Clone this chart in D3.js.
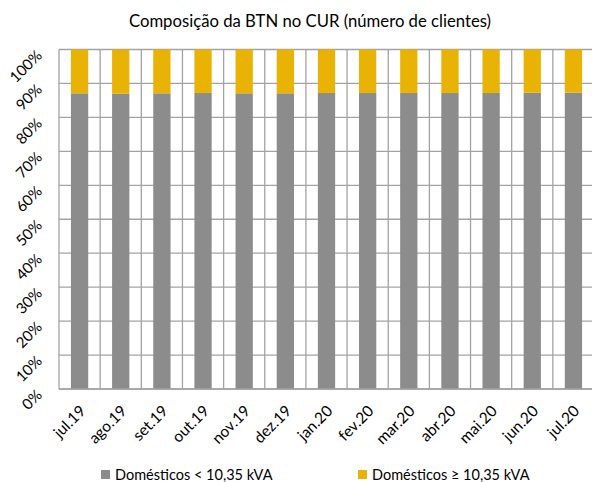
<!DOCTYPE html>
<html>
<head>
<meta charset="utf-8">
<script src="https://cdn.jsdelivr.net/npm/d3@7"></script>
<style>
  body { margin: 0; background: #fff; }
  text { font-family: Lato, "Open Sans", sans-serif; fill: #000; }
</style>
</head>
<body>
<svg id="chart" width="592" height="482"></svg>
<script>
const months = ["jul.19", "ago.19", "set.19", "out.19", "nov.19", "dez.19", "jan.20",
  "fev.20", "mar.20", "abr.20", "mai.20", "jun.20", "jul.20"];
// share of clients, %
const smallPower = [87.1, 87.0, 87.1, 87.2, 87.1, 87.1, 87.2, 87.2, 87.2, 87.2, 87.2, 87.3, 87.3];
const largePower = smallPower.map((v) => 100 - v);
const yTicks = [0, 10, 20, 30, 40, 50, 60, 70, 80, 90, 100];
const seriesNames = ["Domésticos < 10,35 kVA", "Domésticos ≥ 10,35 kVA"];
const colors = ["#8c8c8c", "#e9b306"];

let svg = d3.select("#chart");
let plotLeft = 59, plotRight = 594, plotTop = 49.5, plotBottom = 389;

let cells = d3.scaleBand().domain(months).range([plotLeft, plotRight]);
let xScale = d3.scaleBand().domain(months).range([plotLeft, plotRight])
  .paddingInner(0.58).paddingOuter(0.29);
let yScale = d3.scaleLinear().domain([0, 100]).range([plotBottom, plotTop]);

// title
svg.append("text")
  .attr("x", 310).attr("y", 27)
  .attr("text-anchor", "middle")
  .attr("font-size", 16.7)
  .text("Composição da BTN no CUR (número de clientes)");

// grid
let grid = svg.append("g").attr("stroke", "#a3a3a3").attr("stroke-width", 1.3);
grid.selectAll(".h").data(yTicks).enter().append("line")
  .attr("x1", plotLeft).attr("x2", plotRight)
  .attr("y1", (d) => yScale(d)).attr("y2", (d) => yScale(d));
grid.selectAll(".v").data(months.concat(["end"])).enter().append("line")
  .attr("x1", (d, i) => (i < months.length ? cells(d) : plotRight))
  .attr("x2", (d, i) => (i < months.length ? cells(d) : plotRight))
  .attr("y1", plotTop).attr("y2", plotBottom);

// stacked bars
let rows = months.map((m, i) => ({ month: m, a: smallPower[i], b: largePower[i] }));
let stack = d3.stack().keys(["a", "b"])(rows);
svg.append("g").selectAll("g").data(stack).enter().append("g")
  .attr("fill", (d, i) => colors[i])
  .selectAll("rect").data((d) => d).enter().append("rect")
  .attr("x", (d) => xScale(d.data.month))
  .attr("width", xScale.bandwidth())
  .attr("y", (d) => yScale(d[1]))
  .attr("height", (d) => yScale(d[0]) - yScale(d[1]));

// bottom axis line
svg.append("line").attr("x1", plotLeft).attr("x2", plotRight)
  .attr("y1", plotBottom).attr("y2", plotBottom)
  .attr("stroke", "#a3a3a3").attr("stroke-width", 1.5);

// y labels
svg.append("g").selectAll("text").data(yTicks).enter().append("text")
  .attr("font-size", 15)
  .attr("text-anchor", "end")
  .attr("transform", (d) => `translate(43,${yScale(d) + 7}) rotate(-45)`)
  .text((d) => d + "%");

// x labels
svg.append("g").selectAll("text").data(months).enter().append("text")
  .attr("font-size", 15.5)
  .attr("text-anchor", "end")
  .attr("transform", (d) => `translate(${xScale(d) + xScale.bandwidth() / 2 + 7},${plotBottom + 23}) rotate(-45)`)
  .text((d) => d);

// legend
let legendX = [101, 358];
let legend = svg.append("g").selectAll("g").data(seriesNames).enter().append("g")
  .attr("transform", (d, i) => `translate(${legendX[i]},470)`);
legend.append("rect").attr("width", 9).attr("height", 9)
  .attr("fill", (d, i) => colors[i]);
legend.append("text").attr("x", 14).attr("y", 9.5)
  .attr("font-size", 14.5)
  .text((d) => d);
</script>
</body>
</html>
